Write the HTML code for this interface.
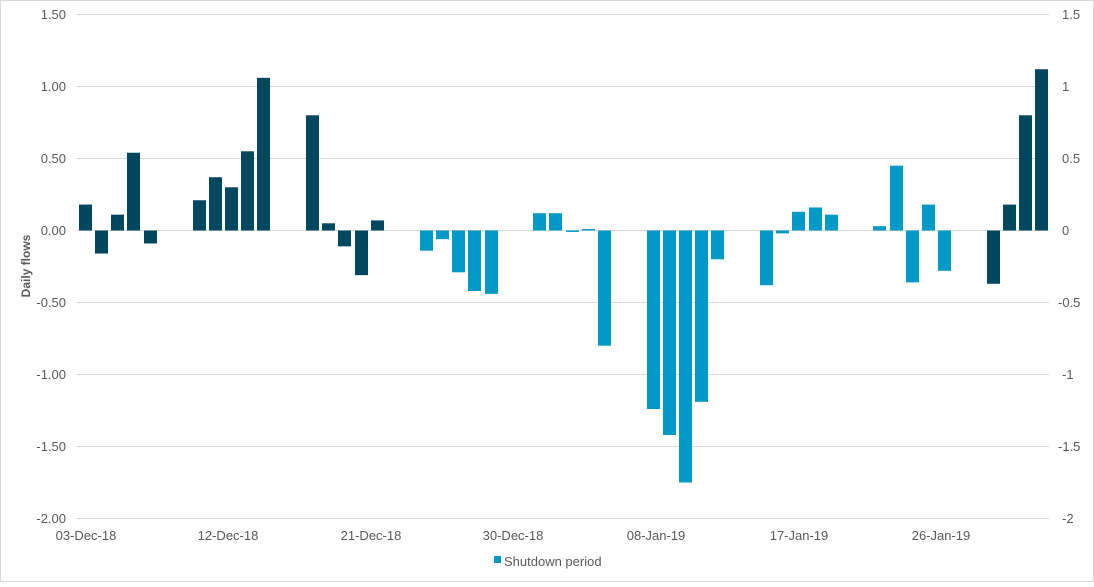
<!DOCTYPE html>
<html><head><meta charset="utf-8"><style>
html,body{margin:0;padding:0;background:#fff;}
svg text{font-family:"Liberation Sans",Arial,sans-serif;fill:#595959;}
</style></head><body>
<svg width="1094" height="582" xmlns="http://www.w3.org/2000/svg">
<rect x="0.5" y="0.5" width="1093" height="581" fill="#fff" stroke="#d9d9d9"/>
<g stroke="#d9d9d9" stroke-width="1">
<line x1="77" x2="1049" y1="14.5" y2="14.5"/>
<line x1="77" x2="1049" y1="86.5" y2="86.5"/>
<line x1="77" x2="1049" y1="158.5" y2="158.5"/>
<line x1="77" x2="1049" y1="230.5" y2="230.5"/>
<line x1="77" x2="1049" y1="302.5" y2="302.5"/>
<line x1="77" x2="1049" y1="374.5" y2="374.5"/>
<line x1="77" x2="1049" y1="446.5" y2="446.5"/>
<line x1="77" x2="1049" y1="518.5" y2="518.5"/>
</g>
<g font-size="13" text-anchor="end">
<text x="66" y="19">1.50</text><text x="66" y="91">1.00</text><text x="66" y="163">0.50</text><text x="66" y="235">0.00</text>
<text x="66" y="307">-0.50</text><text x="66" y="379">-1.00</text><text x="66" y="451">-1.50</text><text x="66" y="523">-2.00</text>
</g>
<g font-size="13" text-anchor="start">
<text x="1062" y="19">1.5</text><text x="1062" y="91">1</text><text x="1062" y="163">0.5</text><text x="1062" y="235">0</text>
<text x="1058" y="307">-0.5</text><text x="1062" y="379">-1</text><text x="1058" y="451">-1.5</text><text x="1062" y="523">-2</text>
</g>
<g font-size="13" text-anchor="middle">
<text x="86" y="540">03-Dec-18</text><text x="228" y="540">12-Dec-18</text><text x="371" y="540">21-Dec-18</text>
<text x="513" y="540">30-Dec-18</text><text x="656" y="540">08-Jan-19</text><text x="799" y="540">17-Jan-19</text><text x="941" y="540">26-Jan-19</text>
</g>
<text x="30" y="266" font-size="12" font-weight="bold" text-anchor="middle" transform="rotate(-90 30 266)">Daily flows</text>
<rect x="494" y="556" width="7" height="7" fill="#0099c8"/>
<text x="504" y="566" font-size="13">Shutdown period</text>
<g id="bars"></g>
</svg>
<script>
var d=[[79,.18,0],[95,-.16,0],[111,.11,0],[127,.54,0],[144,-.09,0],[193,.21,0],[209,.37,0],[225,.30,0],[241,.55,0],[257,1.06,0],[306,.80,0],[322,.05,0],[338,-.11,0],[355,-.31,0],[371,.07,0],
[420,-.14,1],[436,-.06,1],[452,-.29,1],[468,-.42,1],[485,-.44,1],[533,.12,1],[549,.12,1],[566,-.01,1],[582,.01,1],[598,-.80,1],[647,-1.24,1],[663,-1.42,1],[679,-1.75,1],[695,-1.19,1],[711,-.20,1],[760,-.38,1],[776,-.02,1],[792,.13,1],[809,.16,1],[825,.11,1],[873,.03,1],[890,.45,1],[906,-.36,1],[922,.18,1],[938,-.28,1],
[987,-.37,0],[1003,.18,0],[1019,.80,0],[1035,1.12,0]];
var g=document.getElementById('bars'),s='';
d.forEach(function(b){var h=Math.abs(b[1])*144;var y=b[1]>0?230.5-h:230.5;
s+='<rect x="'+b[0]+'" y="'+y+'" width="13" height="'+Math.max(h,1)+'" fill="'+(b[2]?'#0099c8':'#00475f')+'"/>';});
g.innerHTML=s;
</script>
</body></html>
